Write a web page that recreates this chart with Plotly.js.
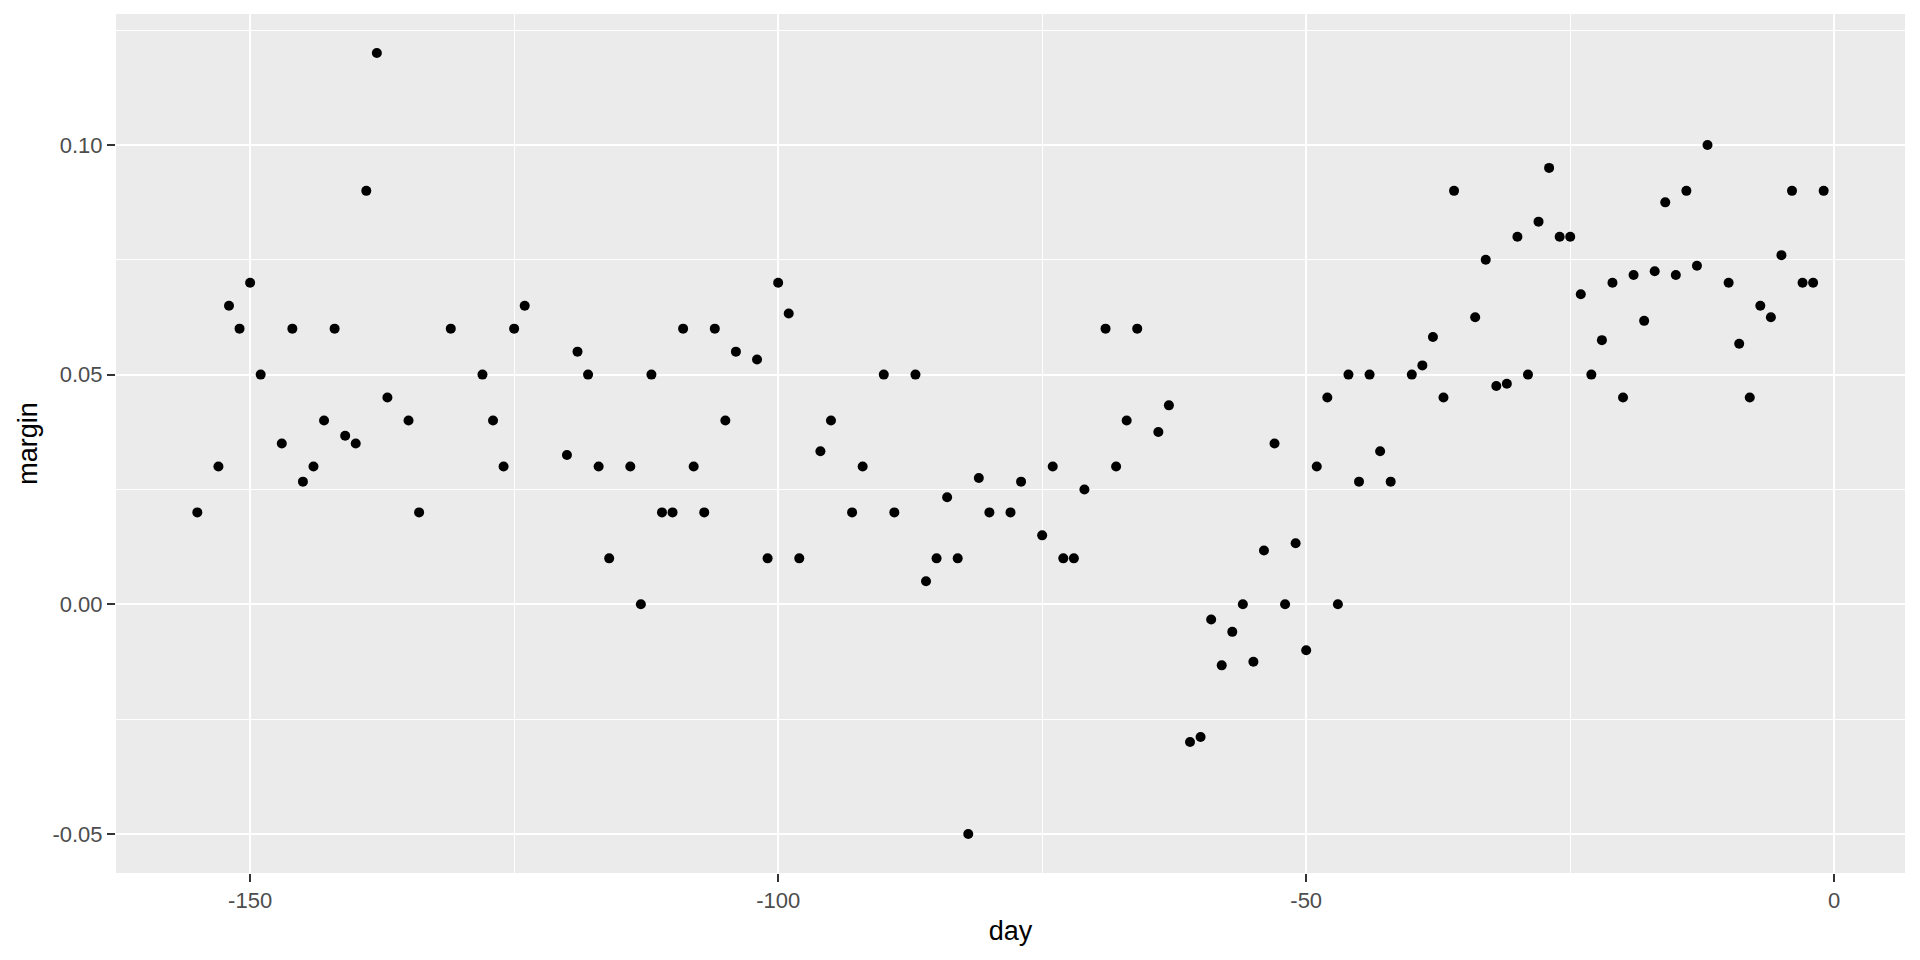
<!DOCTYPE html>
<html>
<head>
<meta charset="utf-8">
<script src="https://cdn.plot.ly/plotly-3.0.1.min.js"></script>
<style>html,body{margin:0;padding:0;background:#fff;}#chart{width:1920px;height:960px;}</style>
</head>
<body>
<div id="chart"></div>
<script>
const days = [-155,-153,-152,-151,-150,-149,-147,-146,-145,-144,-143,-142,-141,-140,-139,-138,-137,-135,-134,
  -131,-128,-127,-126,-125,-124,-120,-119,-118,-117,-116,-114,-113,-112,-111,-110,-109,-108,-107,-106,-105,-104,
  -102,-101,-100,-99,-98,-96,-95,-93,-92,-90,-89,-87,-86,-85,-84,-83,-82,-81,-80,-78,-77,-75,-74,
  -73,-72,-71,-69,-68,-67,-66,-64,-63,-61,-60,-59,-58,-57,-56,-55,-54,-53,-52,-51,-50,-49,-48,-47,-46,-45,
  -44,-43,-42,-40,-39,-38,-37,-36,-34,-33,-32,-31,-30,-29,-28,-27,-26,-25,-24,-23,-22,-21,-20,-19,-18,-17,-16,-15,
  -14,-13,-12,-10,-9,-8,-7,-6,-5,-4,-3,-2,-1];
const margins = [0.02,0.03,0.065,0.06,0.07,0.05,0.035,0.06,0.0267,0.03,0.04,0.06,0.0367,0.035,0.09,0.12,0.045,0.04,0.02,
  0.06,0.05,0.04,0.03,0.06,0.065,0.0325,0.055,0.05,0.03,0.01,0.03,0,0.05,0.02,0.02,0.06,0.03,0.02,0.06,0.04,0.055,
  0.0533,0.01,0.07,0.0633,0.01,0.0333,0.04,0.02,0.03,0.05,0.02,0.05,0.005,0.01,0.0233,0.01,-0.05,0.0275,0.02,0.02,0.0267,0.015,0.03,
  0.01,0.01,0.025,0.06,0.03,0.04,0.06,0.0375,0.0433,-0.03,-0.0289,-0.0033,-0.0133,-0.006,0,-0.0125,0.0117,0.035,0,0.0133,-0.01,0.03,0.045,0,0.05,0.0267,
  0.05,0.0333,0.0267,0.05,0.052,0.0582,0.045,0.09,0.0625,0.075,0.0475,0.048,0.08,0.05,0.0833,0.095,0.08,0.08,0.0675,0.05,0.0575,0.07,0.045,0.0717,0.0617,0.0725,0.0875,0.0717,
  0.09,0.0737,0.1,0.07,0.0567,0.045,0.065,0.0625,0.076,0.09,0.07,0.07,0.09];

const xTickVals = [-150,-100,-50,0];
const xTickText = ["-150","-100","-50","0"];
const xMinorVals = [-125,-75,-25];
const yTickVals = [-0.05,0,0.05,0.10];
const yTickText = ["-0.05","0.00","0.05","0.10"];
const yMinorVals = [-0.025,0.025,0.075,0.125];

const font = "Liberation Sans, Arial, sans-serif";

const trace = {
  x: days, y: margins, type: "scatter", mode: "markers",
  marker: {color: "#000000", size: 10, line: {width: 0}},
  hoverinfo: "x+y"
};

const axisCommon = {
  showline: false, zeroline: false,
  ticks: "outside", ticklen: 8, tickwidth: 1.8, tickcolor: "#333333",
  gridcolor: "#FFFFFF", gridwidth: 2.2,
  tickfont: {family: font, size: 22, color: "#4D4D4D"},
  tickmode: "array"
};

const layout = {
  width: 1920, height: 960,
  paper_bgcolor: "#FFFFFF", plot_bgcolor: "#EBEBEB",
  margin: {l: 116, r: 15, t: 14, b: 87},
  showlegend: false,
  font: {family: font},
  xaxis: Object.assign({}, axisCommon, {
    range: [-162.7, 6.7],
    tickvals: xTickVals, ticktext: xTickText,
    minor: {tickmode: "array", tickvals: xMinorVals, showgrid: true, gridcolor: "#FFFFFF", gridwidth: 1.1, ticks: ""},
    title: {text: "day", font: {family: font, size: 27, color: "#000000"}, standoff: 8}
  }),
  yaxis: Object.assign({}, axisCommon, {
    range: [-0.0585, 0.1285],
    tickvals: yTickVals, ticktext: yTickText,
    ticklabelstandoff: 0,
    minor: {tickmode: "array", tickvals: yMinorVals, showgrid: true, gridcolor: "#FFFFFF", gridwidth: 1.1, ticks: ""},
    title: {text: "margin", font: {family: font, size: 27, color: "#000000"}, standoff: 6}
  })
};

Plotly.newPlot("chart", [trace], layout, {displayModeBar: false, staticPlot: true});
</script>
</body>
</html>
